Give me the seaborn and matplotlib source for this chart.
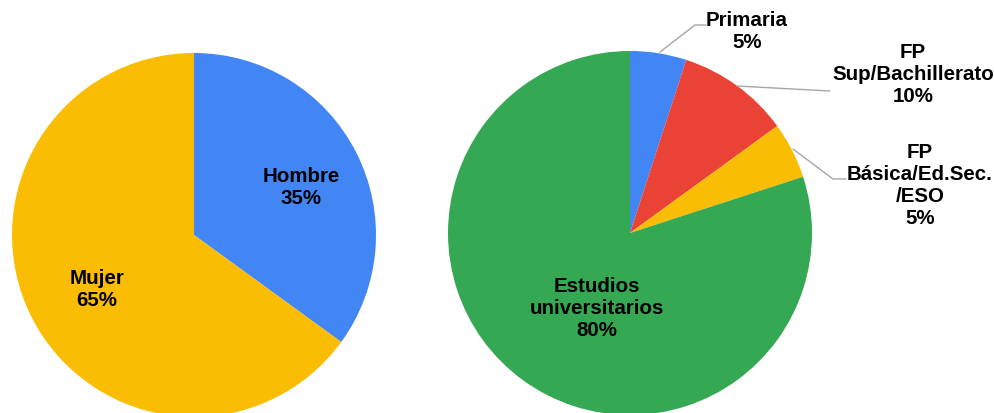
import matplotlib.pyplot as plt
import seaborn as sns

# ------------------------------------------------------
# data
# ------------------------------------------------------
sexo_labels = ["Hombre", "Mujer"]
sexo_values = [35, 65]

estudios_labels = ["Primaria", "FP\nSup/Bachillerato", "FP\nBásica/Ed.Sec.\n/ESO",
                   "Estudios\nuniversitarios"]
estudios_values = [5, 10, 5, 80]

BLUE, RED, YELLOW, GREEN = "#4285F4", "#EA4335", "#FBBC04", "#34A853"
W, H = 994, 414

sns.set_theme(style="white")
plt.rcParams["font.family"] = ["Liberation Sans", "DejaVu Sans"]

fig = plt.figure(figsize=(W / 100, H / 100), dpi=100)
ax = fig.add_axes([0, 0, 1, 1])


def py(y):
    # pixel row (top origin) -> data y
    return H - y


# ------------------------------------------------------
# pies
# ------------------------------------------------------
ax.pie(sexo_values, colors=[BLUE, YELLOW], startangle=90, counterclock=False,
       center=(194, py(236)), radius=182, wedgeprops=dict(linewidth=0))
ax.pie(estudios_values, colors=[BLUE, RED, YELLOW, GREEN], startangle=90,
       counterclock=False, center=(630, py(234)), radius=182,
       wedgeprops=dict(linewidth=0))

ax.set_xlim(0, W)
ax.set_ylim(0, H)
ax.set_aspect("equal")
ax.axis("off")

txt = dict(ha="center", va="center", fontsize=14.8, fontweight="bold",
           color="black", linespacing=1.2)

# inner labels
ax.text(301, py(188), f"{sexo_labels[0]}\n{sexo_values[0]}%", **txt)
ax.text(97, py(290), f"{sexo_labels[1]}\n{sexo_values[1]}%", **txt)
ax.text(597, py(308), f"{estudios_labels[3]}\n{estudios_values[3]}%", **txt)

# outer labels
ax.text(747, py(32), f"{estudios_labels[0]}\n{estudios_values[0]}%", **txt)
ax.text(913, py(75), f"{estudios_labels[1]}\n{estudios_values[1]}%", **txt)
ax.text(920, py(185), f"{estudios_labels[2]}\n{estudios_values[2]}%", **txt)

# leader lines
line = dict(color="#A6A6A6", linewidth=1)
ax.plot([660, 695, 706], [py(53), py(26), py(26)], **line)
ax.plot([737, 830], [py(87), py(92)], **line)
ax.plot([793, 833, 846], [py(150), py(180), py(180)], **line)

fig.savefig("out.png", dpi=100)
